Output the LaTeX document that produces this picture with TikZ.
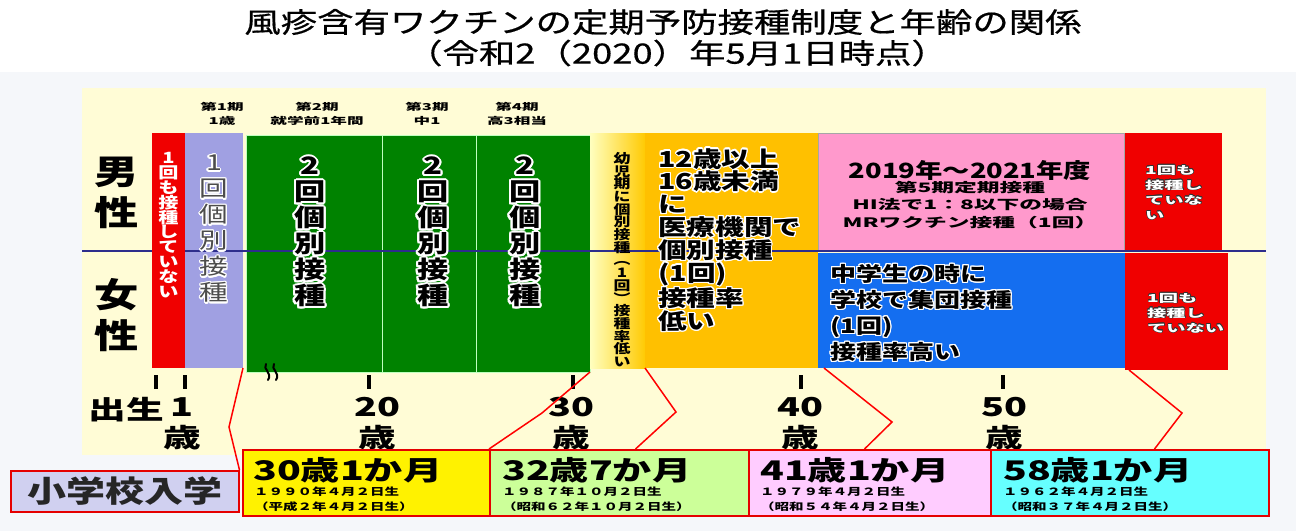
\documentclass[tikz,border=0pt]{standalone}
\usepackage{fontspec}
\setmainfont{Noto Sans CJK JP}[FakeStretch=1.3]
\newfontfamily\titlefont{Noto Sans CJK JP}[FakeStretch=1.3, FakeBold=0.6]
\newfontfamily\agefont{Noto Sans CJK JP}[FakeStretch=1.45]
\newfontfamily\widefont{Noto Sans CJK JP}[FakeStretch=1.75]
\newfontfamily\datefont{Noto Sans CJK JP}[FakeStretch=1.45, RawFeature=+fwid]
\usepackage{contour}
\contourlength{1.2pt}
\usetikzlibrary{positioning, calc}

\definecolor{panel}{RGB}{255,252,214}
\definecolor{bggray}{RGB}{245,247,250}
\definecolor{never}{RGB}{240,0,0}
\definecolor{lav}{RGB}{160,160,226}
\definecolor{vgreen}{RGB}{0,130,0}
\definecolor{amber}{RGB}{255,192,0}
\definecolor{mrpink}{RGB}{255,153,204}
\definecolor{schoolblue}{RGB}{20,110,240}
\definecolor{navy}{RGB}{45,45,140}
\definecolor{lavbox}{RGB}{208,208,240}
\definecolor{limebox}{RGB}{204,255,153}
\definecolor{pinkbox}{RGB}{255,204,255}
\definecolor{cyanbox}{RGB}{102,255,255}

\newcommand\sz[2]{\fontsize{#1}{#2}\selectfont}
\newcommand\hw[1]{\contour{white}{#1}}
\newcommand\hg[1]{{\contourlength{2pt}\contour{white}{#1}}}
\newcommand\hb[1]{{\contourlength{0.5pt}\contour{black!80}{#1}}}
\newcommand\twice{\hg{2}\\\hg{回}\\\hg{個}\\\hg{別}\\\hg{接}\\\hg{種}}

\begin{document}
\begin{tikzpicture}[x=1pt, y=-1pt,
	bar/.style={anchor=north west, inner sep=0, outer sep=0},
	vtxt/.style={anchor=north, inner sep=0, align=center},
	head/.style={anchor=north, inner sep=0, align=center, font=\widefont\bfseries\sz{9.5}{14}},
	agelbl/.style={anchor=north, inner sep=0, align=center, font=\agefont\bfseries\sz{26}{31}},
	agetick/.style={line width=4, black},
	agebox/.style={anchor=north west, draw=red!90!black, line width=1.5, minimum height=66, inner sep=0},
	bigage/.style={anchor=west, inner sep=0, font=\agefont\bfseries\sz{27}{27}},
	smallage/.style={anchor=north west, inner sep=0, align=left, font=\datefont\bfseries\sz{10}{14.5}},
	link/.style={red, line width=1.5}]
	\useasboundingbox (0,0) rectangle (1296,531);
	\fill[white] (0,0) rectangle (1296,531);
	\fill[bggray] (0,72) rectangle (1296,531);
	\fill[panel] (82,88) rectangle (1266,455);

	% title
	\node[font=\titlefont\sz{28}{28}] (title) at (663,22) {風疹含有ワクチンの定期予防接種制度と年齢の関係};
	\node[font=\titlefont\sz{28}{28}] (date) at (677,53) {（令和2（2020）年5月1日時点）};

	% columns
	\node[bar, fill=lav, minimum width=58, minimum height=235] (lav) at (185,133) {};
	\node[bar, fill=vgreen, draw=green!25!white, line width=0.8, minimum width=136, minimum height=237] (g1) at (246,135) {};
	\node[bar, fill=vgreen, draw=green!25!white, line width=0.8, minimum width=94, minimum height=237] (g2) at (382,135) {};
	\node[bar, fill=vgreen, draw=green!25!white, line width=0.8, minimum width=114, minimum height=237] (g3) at (476,135) {};
	\node[bar, left color=yellow!25!white, right color=amber!85!yellow, minimum width=56, minimum height=235] (pale) at (590,133) {};
	\node[bar, fill=amber, minimum width=173, minimum height=235] (orange) at (645,133) {};
	\node[bar, fill=mrpink, draw=gray!70, minimum width=306, minimum height=117] (pink) at (818,133) {};
	\node[bar, fill=schoolblue, minimum width=307, minimum height=115] (blue) at (818,253) {};
	\node[bar, fill=never, minimum width=97, minimum height=117] (redA) at (1125,133) {};
	\node[bar, fill=never, minimum width=103, minimum height=117] (redB) at (1125,253) {};
	\draw[navy, line width=2.5] (82,251) -- (1266,251);
	\node[bar, fill=never, minimum width=33, minimum height=235] (never) at (152,133) {};

	% period heads
	\node[head] (p1) at (222,102) {第1期\\1歳};
	\node[head] (p2) at (317,102) {第2期\\就学前1年間};
	\node[head] (p3) at (427,102) {第3期\\中1};
	\node[head] (p4) at (517,102) {第4期\\高3相当};

	% sex
	\node[font=\bfseries\sz{34}{41}, align=center, anchor=north, inner sep=0] (male) at (117,157) {男\\性};
	\node[font=\bfseries\sz{34}{41}, align=center, anchor=north, inner sep=0] (female) at (117,278) {女\\性};

	% column texts
	\node[vtxt, text=white, font=\bfseries\sz{15.5}{14.9}] at ([yshift=-19pt]never.north) {1\\回\\も\\接\\種\\し\\て\\い\\な\\い};
	\node[vtxt, text=black!70, font=\sz{22}{26}] at ([yshift=-22pt]lav.north) {\hw{1}\\\hw{回}\\\hw{個}\\\hw{別}\\\hw{接}\\\hw{種}};
	\node[vtxt, font=\bfseries\sz{24}{26}] at ([xshift=-4pt, yshift=-22pt]g1.north) {\twice};
	\node[vtxt, font=\bfseries\sz{24}{26}] at ([xshift=4pt, yshift=-22pt]g2.north) {\twice};
	\node[vtxt, font=\bfseries\sz{24}{26}] at ([xshift=-8pt, yshift=-22pt]g3.north) {\twice};
	\node[vtxt, font=\bfseries\sz{13}{12.7}] at ([xshift=4pt, yshift=-19pt]pale.north) {幼\\児\\期\\に\\個\\別\\接\\種\\︵\\1\\回\\︶\\接\\種\\率\\低\\い};
	\node[anchor=north west, align=left, inner sep=0, font=\bfseries\sz{22}{22.8}] (otxt) at ([xshift=13pt, yshift=-15pt]orange.north west) {\hw{12歳以上}\\\hw{16歳未満}\\\hw{に}\\\hw{医療機関で}\\\hw{個別接種}\\\hw{(1回)}\\\hw{接種率}\\\hw{低い}};
	\node[anchor=north, inner sep=0, font=\bfseries\sz{21}{21}] (ptxt) at ([xshift=-1pt, yshift=-27pt]pink.north) {2019年～2021年度};
	\node[anchor=north, align=center, inner sep=0, font=\widefont\bfseries\sz{13}{17.5}] (pnote) at ([xshift=-1pt, yshift=-48pt]pink.north) {第5期定期接種\\HI法で1：8以下の場合\\MRワクチン接種（1回）};
	\node[anchor=north west, align=left, inner sep=0, font=\bfseries\sz{20}{26}] (btxt) at ([xshift=12pt, yshift=-11pt]blue.north west) {\hw{中学生の時に}\\\hw{学校で集団接種}\\\hw{(1回)}\\\hw{接種率高い}};
	\node[anchor=north west, align=left, inner sep=0, text=white, font=\widefont\bfseries\sz{11}{15}] at ([xshift=20pt, yshift=-32pt]redA.north west) {\hb{1回も}\\\hb{接種し}\\\hb{ていな}\\\hb{い}};
	\node[anchor=north west, align=left, inner sep=0, text=white, font=\widefont\bfseries\sz{11}{15}] at ([xshift=22pt, yshift=-40pt]redB.north west) {\hb{1回も}\\\hb{接種し}\\\hb{ていない}};

	% break mark
	\draw[line width=2, line cap=round] (266,364) .. controls (262,369) and (273,373) .. (268,380);
	\draw[line width=2, line cap=round] (274,364) .. controls (270,369) and (281,373) .. (276,380);

	% age axis
	\foreach \x in {156,185,369,573,801,1003}
		\draw[agetick] (\x,375) -- (\x,389);
	\node[agelbl] (birth) at (126,397) {出生};
	\node[agelbl] (a1) at (182,397) {1\\歳};
	\foreach \x/\n in {377/20, 571/30, 800/40, 1004/50}
		\node[agelbl] (a\n) at (\x,397) {\n\\歳};

	% age boxes
	\node[agebox, fill=yellow, minimum width=247] (b30) at (242,449) {};
	\node[agebox, fill=limebox, minimum width=259] (b32) at (489,449) {};
	\node[agebox, fill=pinkbox, minimum width=242] (b41) at (748,449) {};
	\node[agebox, fill=cyanbox, minimum width=278] (b58) at (990,449) {};
	\node[bigage] at ([xshift=11pt, yshift=-21pt]b30.north west) {30歳1か月};
	\node[smallage] at ([xshift=12pt, yshift=-38pt]b30.north west) {1990年4月2日生\\（平成2年4月2日生）};
	\node[bigage] at ([xshift=13pt, yshift=-21pt]b32.north west) {32歳7か月};
	\node[smallage] at ([xshift=13pt, yshift=-38pt]b32.north west) {1987年10月2日生\\（昭和62年10月2日生）};
	\node[bigage] at ([xshift=12pt, yshift=-21pt]b41.north west) {41歳1か月};
	\node[smallage] at ([xshift=12pt, yshift=-38pt]b41.north west) {1979年4月2日生\\（昭和54年4月2日生）};
	\node[bigage] at ([xshift=13pt, yshift=-21pt]b58.north west) {58歳1か月};
	\node[smallage] at ([xshift=13pt, yshift=-38pt]b58.north west) {1962年4月2日生\\（昭和37年4月2日生）};
	\node[anchor=north west, draw=red!90!black, line width=1.5, fill=lavbox, minimum width=228, minimum height=41, inner sep=0, text=black!85, font=\bfseries\sz{30}{30}] (entry) at (10,470) {小学校入学};

	% links
	\draw[link] (lav.south east) -- (229,427) -- (entry.north east);
	\draw[link] (g3.south east) -- (542,413) -- (b32.north west);
	\draw[link] (orange.south west) -- (676,412) -- ([xshift=-114pt]b32.north east);
	\draw[link] ([xshift=6pt]blue.south west) -- (892,422) -- ([xshift=-127pt]b41.north east);
	\draw[link] ([xshift=4pt]redB.south west) -- (1182,413) -- ([xshift=-115pt]b58.north east);
\end{tikzpicture}
\end{document}
